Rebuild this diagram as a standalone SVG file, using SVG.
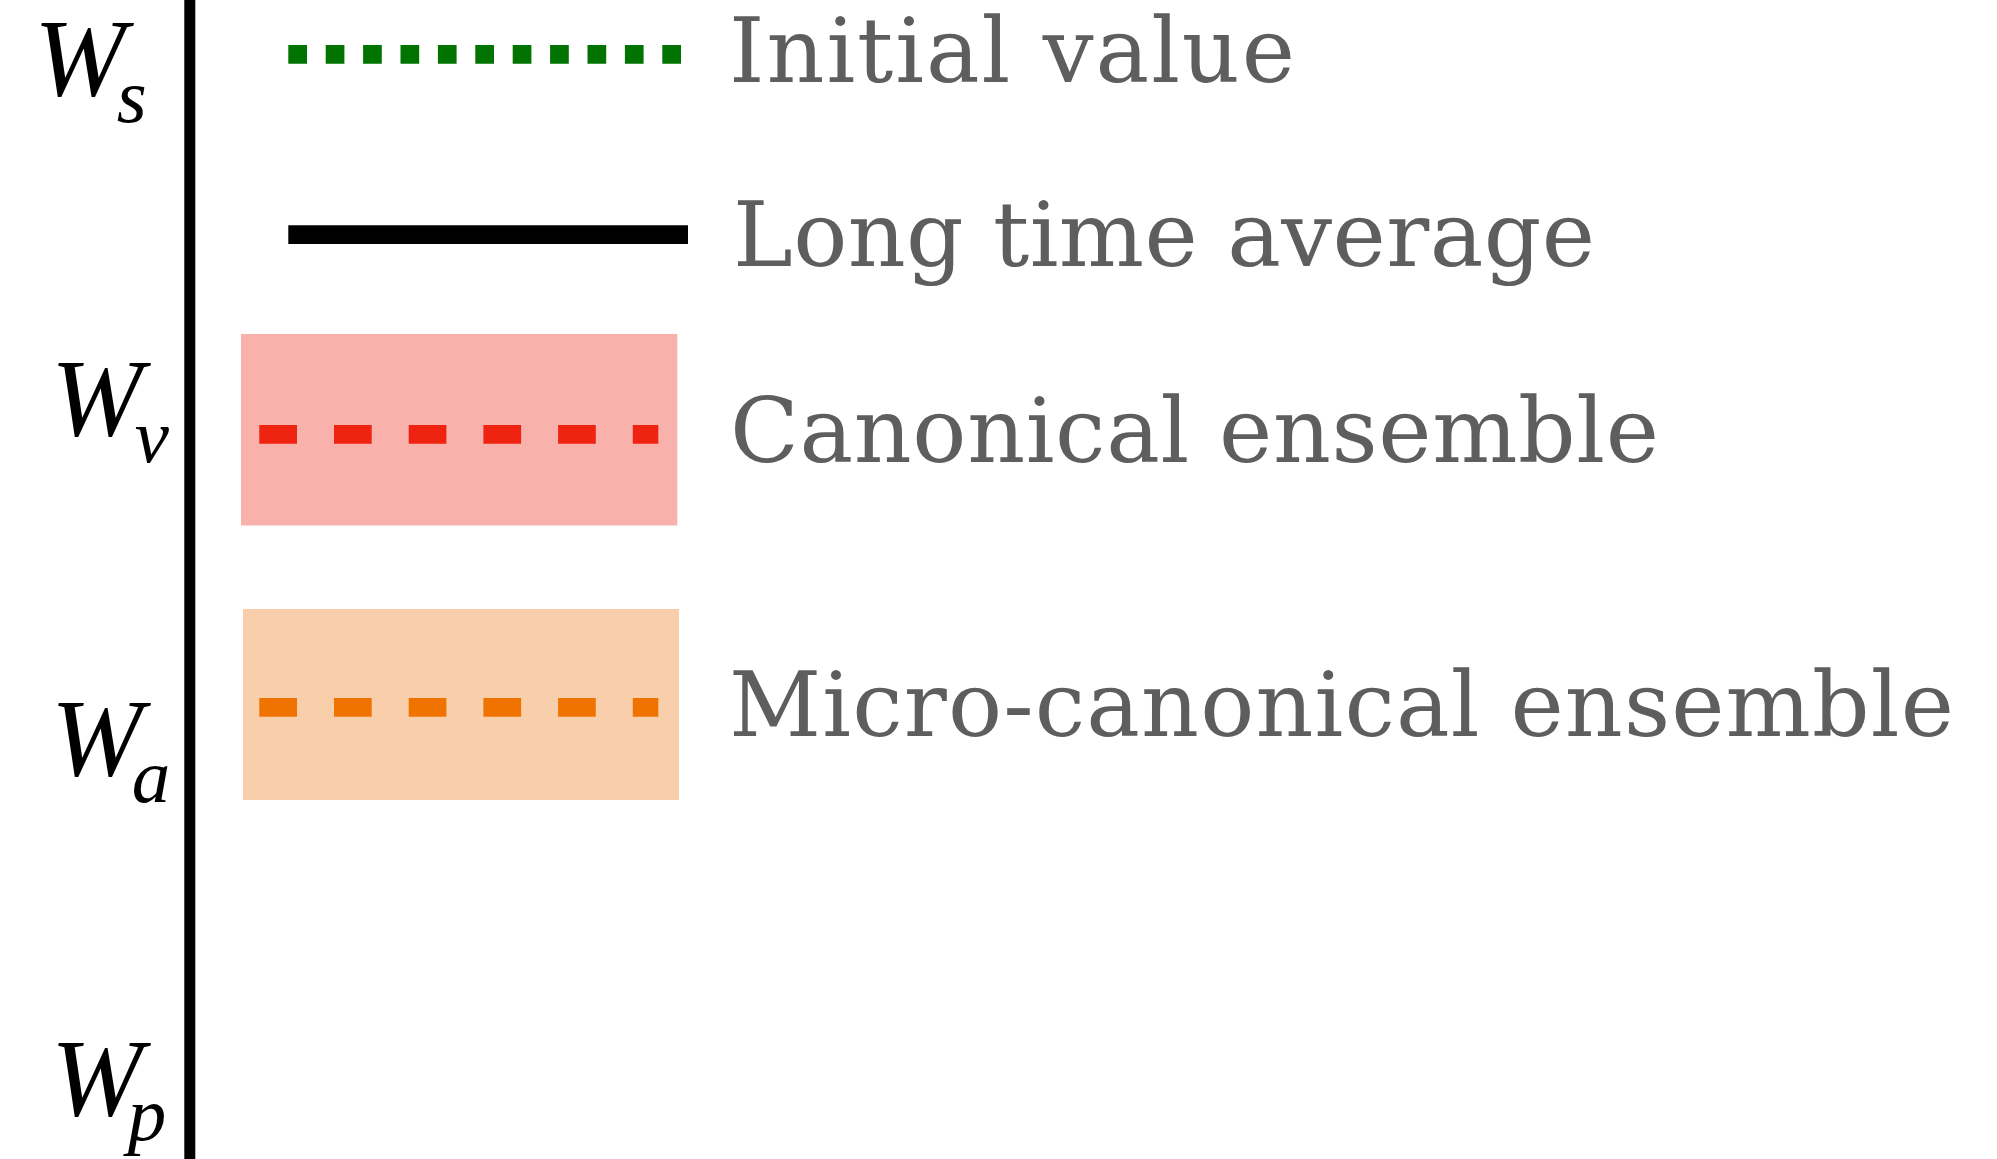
<svg xmlns="http://www.w3.org/2000/svg" width="1997" height="1159" viewBox="0 0 1997 1159">
  <style>
    .lbl { font-family: "DejaVu Serif", "Liberation Serif", serif; font-size: 90px; fill: #5e5e5e; }
    .w { font-family: "Liberation Serif", "Times New Roman", serif; font-style: italic; font-size: 110px; fill: #000; }
    .sub { font-size: 77px; }
    .dash { fill: none; stroke-width: 18.7; }
  </style>
  <rect width="1997" height="1159" fill="#ffffff"/>

  <!-- vertical energy axis -->
  <g id="axis">
    <line x1="189.8" y1="0" x2="189.8" y2="1159" stroke="#000" stroke-width="11"/>
  </g>

  <!-- axis level labels: W with italic subscript -->
  <g id="label-Ws">
    <text class="w" x="34" y="95">W<tspan class="sub" dx="-9" dy="27">s</tspan></text>
  </g>
  <g id="label-Wv">
    <text class="w" x="51" y="435">W<tspan class="sub" dx="-8" dy="27">v</tspan></text>
  </g>
  <g id="label-Wa">
    <text class="w" x="51" y="775">W<tspan class="sub" dx="-11" dy="27">a</tspan></text>
  </g>
  <g id="label-Wp">
    <text class="w" x="51" y="1115">W<tspan class="sub" dx="-15" dy="25">p</tspan></text>
  </g>

  <!-- legend entries -->
  <g id="initial-value">
    <line class="dash" x1="288.3" y1="54.3" x2="681" y2="54.3" stroke="#007300" stroke-dasharray="18.7 18.7"/>
    <text class="lbl" x="729" y="82" textLength="566">Initial value</text>
  </g>
  <g id="long-time-average">
    <line x1="288.3" y1="234.7" x2="688" y2="234.7" stroke="#000" stroke-width="18.7"/>
    <text class="lbl" x="733" y="266" textLength="862">Long time average</text>
  </g>
  <g id="canonical-ensemble">
    <rect x="241" y="334" width="436.3" height="191.5" fill="#f8b2ab"/>
    <line class="dash" x1="259.3" y1="434.3" x2="658.3" y2="434.3" stroke="#ee2310" stroke-dasharray="37.7 37"/>
    <text class="lbl" x="730" y="462" textLength="929">Canonical ensemble</text>
  </g>
  <g id="micro-canonical-ensemble">
    <rect x="243" y="609" width="436" height="191" fill="#f8cfaa"/>
    <line class="dash" x1="259.3" y1="707.3" x2="658.3" y2="707.3" stroke="#f07300" stroke-dasharray="37.7 37"/>
    <text class="lbl" x="729" y="736" textLength="1225">Micro-canonical ensemble</text>
  </g>
</svg>
